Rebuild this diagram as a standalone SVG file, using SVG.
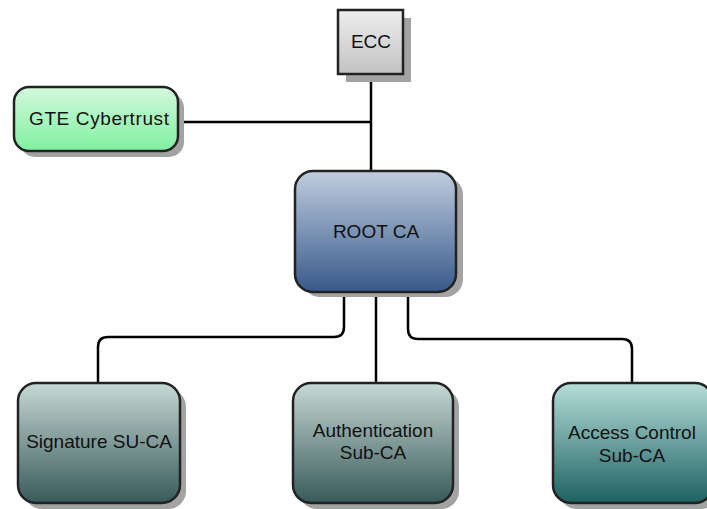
<svg xmlns="http://www.w3.org/2000/svg" width="707" height="509" viewBox="0 0 707 509">
<defs>
<linearGradient id="gEcc" x1="0" y1="0" x2="0" y2="1"><stop offset="0" stop-color="#eeeeee"/><stop offset="1" stop-color="#c2c2c2"/></linearGradient>
<linearGradient id="gGte" x1="0" y1="0" x2="0" y2="1"><stop offset="0" stop-color="#d4f9de"/><stop offset="1" stop-color="#7ff0a0"/></linearGradient>
<linearGradient id="gRoot" x1="0" y1="0" x2="0" y2="1"><stop offset="0" stop-color="#bfcddf"/><stop offset="1" stop-color="#38598a"/></linearGradient>
<linearGradient id="gSub" x1="0" y1="0" x2="0" y2="1"><stop offset="0" stop-color="#c6d8d4"/><stop offset="1" stop-color="#385a5a"/></linearGradient>
<linearGradient id="gAcc" x1="0" y1="0" x2="0" y2="1"><stop offset="0" stop-color="#b6ddd8"/><stop offset="1" stop-color="#1d6262"/></linearGradient>
</defs>
<style>
.shadow{fill:#a3a3a3}
.box{stroke:#222;stroke-width:2.5}
.lbl{font-family:"Liberation Sans",Arial,sans-serif;font-size:19px;fill:#111;text-anchor:middle}
.conn{fill:none;stroke:#000;stroke-width:2.5}
</style>
<g id="connectors">
<path class="conn" d="M371,74 V171"/>
<path class="conn" d="M178,122 H371"/>
<path class="conn" d="M344,292 V327 Q344,337 334,337 H108 Q98,337 98,347 V383"/>
<path class="conn" d="M376,292 V383"/>
<path class="conn" d="M408,292 V329 Q408,339 418,339 H622 Q632,339 632,349 V383"/>
</g>
<g id="ecc">
<rect class="shadow" x="346" y="18" width="65" height="64"/>
<rect class="box" x="338" y="10" width="65" height="64" fill="url(#gEcc)"/>
<text class="lbl" x="371" y="48">ECC</text>
</g>
<g id="gte">
<rect class="shadow" x="20" y="93" width="164" height="64" rx="15"/>
<rect class="box" x="14" y="87" width="164" height="64" rx="15" fill="url(#gGte)"/>
<text class="lbl" x="99" y="125" textLength="140">GTE Cybertrust</text>
</g>
<g id="root">
<rect class="shadow" x="302" y="177" width="161" height="120" rx="18"/>
<rect class="box" x="295" y="171" width="161" height="121" rx="18" fill="url(#gRoot)"/>
<text class="lbl" x="376" y="238">ROOT CA</text>
</g>
<g id="signature">
<rect class="shadow" x="24" y="389" width="162" height="120" rx="18"/>
<rect class="box" x="18" y="383" width="162" height="120" rx="18" fill="url(#gSub)"/>
<text class="lbl" x="99" y="448">Signature SU-CA</text>
</g>
<g id="authentication">
<rect class="shadow" x="299" y="389" width="160" height="120" rx="18"/>
<rect class="box" x="293" y="383" width="160" height="120" rx="18" fill="url(#gSub)"/>
<text class="lbl" x="373" y="437">Authentication</text>
<text class="lbl" x="373" y="459">Sub-CA</text>
</g>
<g id="access">
<rect class="shadow" x="559" y="389" width="160" height="120" rx="18"/>
<rect class="box" x="553" y="383" width="160" height="120" rx="18" fill="url(#gAcc)"/>
<text class="lbl" x="632" y="439">Access Control</text>
<text class="lbl" x="632" y="462">Sub-CA</text>
</g>
</svg>
